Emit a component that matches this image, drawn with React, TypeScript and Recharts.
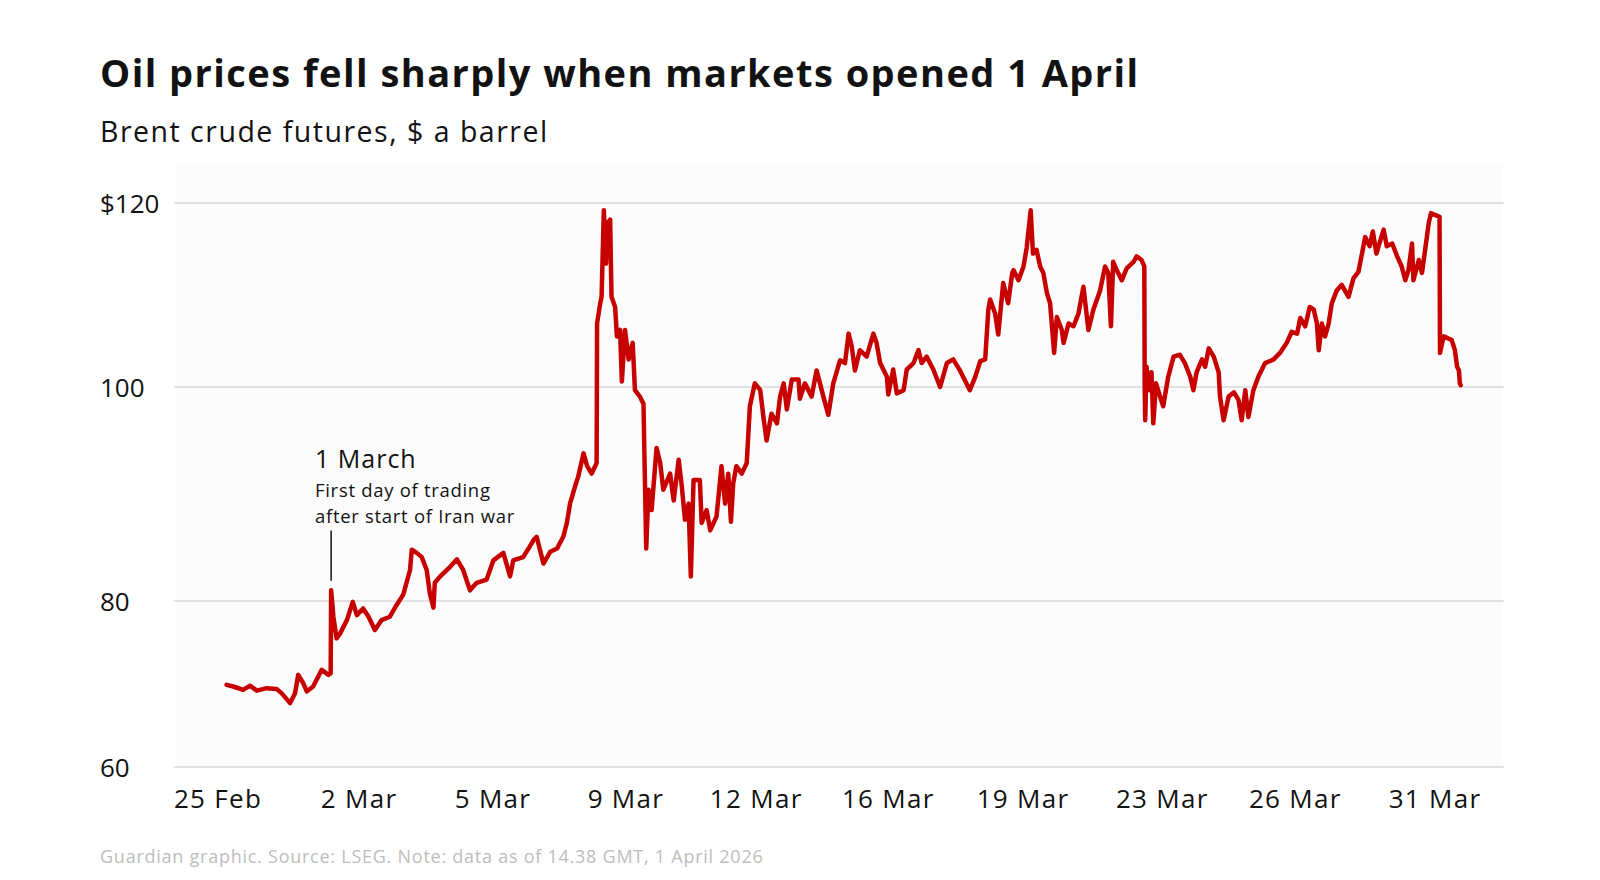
import React from 'react';
import { LineChart, Line, XAxis, YAxis, CartesianGrid, ReferenceLine } from 'recharts';

// Trading days since the 25 Feb session (weekends removed)
const DAYS = [
  0.19, 0.34, 0.56, 0.71, 0.86, 1.08, 1.3, 1.41, 1.6, 1.71, 1.78, 1.89, 1.97, 2.11, 2.3, 2.45, 2.5,
  2.51, 2.56, 2.63, 2.71, 2.86, 2.99, 3.08, 3.22, 3.34, 3.48, 3.63, 3.81, 3.96, 4.11, 4.26, 4.3,
  4.41, 4.52, 4.63, 4.7, 4.78, 4.81, 4.93, 5.15, 5.3, 5.44, 5.59, 5.74, 5.96, 6.11, 6.33, 6.48,
  6.55, 6.77, 6.89, 7.0, 7.07, 7.22, 7.37, 7.52, 7.66, 7.74, 7.81, 7.92, 7.99, 8.11, 8.19, 8.29,
  8.4, 8.41, 8.48, 8.51, 8.56, 8.61, 8.64, 8.7, 8.73, 8.81, 8.85, 8.92, 8.96, 9.03, 9.11, 9.2,
  9.25, 9.36, 9.44, 9.45, 9.5, 9.55, 9.62, 9.73, 9.81, 9.88, 10.03, 10.11, 10.22, 10.29, 10.36,
  10.44, 10.49, 10.55, 10.69, 10.73, 10.84, 10.92, 11.06, 11.17, 11.25, 11.32, 11.38, 11.43, 11.5,
  11.62, 11.73, 11.8, 11.91, 12.03, 12.1, 12.17, 12.28, 12.4, 12.47, 12.55, 12.62, 12.73, 12.88,
  12.91, 13.02, 13.17, 13.28, 13.43, 13.54, 13.65, 13.8, 13.91, 13.99, 14.06, 14.13, 14.24, 14.39,
  14.54, 14.61, 14.69, 14.84, 14.87, 14.98, 15.06, 15.21, 15.28, 15.43, 15.54, 15.61, 15.72, 15.87,
  16.02, 16.17, 16.31, 16.46, 16.68, 16.8, 16.91, 17.02, 17.09, 17.13, 17.24, 17.31, 17.42, 17.53,
  17.62, 17.65, 17.76, 17.87, 17.94, 18.03, 18.08, 18.16, 18.24, 18.31, 18.39, 18.46, 18.55, 18.61,
  18.72, 18.76, 18.87, 18.98, 19.09, 19.2, 19.31, 19.42, 19.57, 19.68, 19.75, 19.81, 19.86, 19.94,
  20.05, 20.16, 20.31, 20.38, 20.49, 20.55, 20.56, 20.57, 20.6, 20.66, 20.71, 20.75, 20.81, 20.9,
  20.97, 21.08, 21.2, 21.34, 21.45, 21.57, 21.64, 21.71, 21.83, 21.9, 21.98, 22.09, 22.2, 22.23,
  22.31, 22.42, 22.54, 22.64, 22.71, 22.79, 22.86, 22.97, 23.08, 23.23, 23.42, 23.56, 23.71, 23.82,
  23.94, 24.01, 24.12, 24.22, 24.31, 24.38, 24.42, 24.49, 24.56, 24.64, 24.71, 24.82, 24.93, 25.08,
  25.19, 25.3, 25.38, 25.45, 25.55, 25.62, 25.7, 25.79, 25.86, 25.93, 26.05, 26.16, 26.26, 26.34,
  26.41, 26.49, 26.52, 26.64, 26.71, 26.78, 26.86, 26.91, 27.0, 27.1, 27.11, 27.19, 27.37, 27.44,
  27.49, 27.53, 27.55, 27.57,
];

// Brent crude futures, $ a barrel
const PRICES = [
  69.9, 69.7, 69.3, 69.8, 69.2, 69.5, 69.4, 68.9, 67.7, 68.9, 71.1, 70.1, 69.1, 69.7, 71.7, 71.1, 71.3,
  81.0, 78.1, 75.5, 76.1, 77.7, 79.9, 78.3, 79.1, 78.1, 76.5, 77.7, 78.1, 79.5, 80.6, 82.9, 84.8,
  84.5, 84.1, 82.9, 80.7, 79.2, 81.7, 82.3, 83.2, 83.9, 82.9, 81.0, 81.7, 82.0, 83.8, 84.5, 82.3,
  83.8, 84.1, 84.9, 85.7, 86.0, 83.5, 84.6, 84.9, 86.0, 87.3, 89.1, 90.7, 91.6, 93.8, 92.6, 91.9,
  92.9, 106.9, 109.1, 109.8, 119.2, 113.4, 117.8, 118.2, 109.8, 108.7, 105.5, 106.2, 100.6, 106.2, 103.0, 104.8,
  99.7, 99.1, 98.4, 96.0, 84.9, 90.4, 88.5, 94.3, 92.9, 90.4, 91.9, 89.4, 93.2, 90.7, 87.6,
  89.1, 82.3, 91.3, 91.3, 87.3, 88.5, 86.6, 87.9, 92.6, 89.1, 91.9, 87.4, 91.0, 92.6,
  91.9, 92.9, 98.2, 100.4, 99.7, 97.2, 95.0, 97.5, 96.6, 99.1, 100.4, 97.9, 100.8, 100.8,
  98.9, 100.4, 99.1, 101.8, 99.1, 97.4, 100.4, 102.9, 102.6, 105.8, 104.4, 101.8, 104.0, 103.3,
  105.8, 104.8, 102.6, 101.1, 99.3, 101.9, 99.4, 99.7, 101.9, 102.6, 104.0, 102.6, 103.3, 101.9,
  100.0, 102.6, 103.0, 101.8, 99.7, 101.1, 102.8, 103.0, 108.4, 109.5, 108.0, 105.7, 111.3, 109.1,
  112.4, 112.7, 111.6, 113.1, 115.1, 119.2, 114.5, 114.9, 113.1, 112.4, 110.2, 109.1, 103.7, 107.6,
  106.2, 104.8, 106.9, 106.6, 108.0, 110.9, 106.2, 108.4, 110.5, 113.1, 112.4, 106.6, 113.6, 112.7,
  111.6, 112.9, 113.6, 114.2, 113.8, 113.1, 99.7, 96.9, 102.2, 99.7, 101.6, 96.6, 100.4, 99.1,
  98.2, 101.1, 103.3, 103.5, 102.6, 101.1, 99.7, 101.6, 103.0, 102.2, 104.2, 103.3, 101.6, 99.1,
  96.9, 99.1, 99.5, 98.8, 96.9, 99.7, 97.2, 99.7, 101.1, 102.6, 103.0, 103.7, 104.8, 106.0,
  105.8, 107.5, 106.6, 108.7, 108.4, 106.9, 104.0, 106.9, 105.5, 106.9, 109.1, 110.5, 111.1, 109.8,
  111.8, 112.5, 114.5, 116.3, 115.3, 116.9, 114.5, 116.0, 117.1, 115.3, 115.6, 114.2, 113.1, 111.6,
  112.7, 115.6, 111.6, 113.8, 112.4, 114.9, 117.8, 118.9, 118.7, 118.5, 103.7, 105.5, 105.1, 104.0,
  102.2, 101.8, 100.4, 100.2,
];

const TICK_DAYS = [0, 3.13, 6.1, 9.05, 11.94, 14.87, 17.86, 20.95, 23.9, 27.0];
const TICK_LABELS = ['25 Feb', '2 Mar', '5 Mar', '9 Mar', '12 Mar', '16 Mar', '19 Mar', '23 Mar', '26 Mar', '31 Mar'];
const PRICE_TICKS = [60, 80, 100, 120];
const PRICE_TICK_LABELS = ['60', '80', '100', '$120'];

// Annotation leader for 1 March (day, price)
const ANNOT_DAY = 2.51;
const ANNOT_PRICES = [81.9, 86.6];

// Uneven spacing of the value axis as drawn in the original
const Y_FRACTIONS = [0, 0.2943, 0.6738, 1];

const data = DAYS.map((d, i) => ({ day: d, price: PRICES[i] }));

function makePriceScale(): any {
  let dom: number[] = [PRICE_TICKS[0], PRICE_TICKS[PRICE_TICKS.length - 1]];
  let rng: number[] = [0, 1];
  const frac = (v: number) => {
    let i = 0;
    while (i < PRICE_TICKS.length - 2 && v > PRICE_TICKS[i + 1]) i++;
    const a = PRICE_TICKS[i];
    const b = PRICE_TICKS[i + 1];
    return Y_FRACTIONS[i] + ((v - a) / (b - a)) * (Y_FRACTIONS[i + 1] - Y_FRACTIONS[i]);
  };
  const s: any = (v: number) => rng[0] + frac(v) * (rng[1] - rng[0]);
  s.domain = (d?: number[]) => {
    if (d === undefined) return dom.slice();
    dom = d.slice();
    return s;
  };
  s.range = (r?: number[]) => {
    if (r === undefined) return rng.slice();
    rng = r.slice();
    return s;
  };
  s.copy = () => {
    const c = makePriceScale();
    c.domain(dom);
    c.range(rng);
    return c;
  };
  s.ticks = () => PRICE_TICKS.slice();
  s.tickFormat = () => (v: number) => String(v);
  s.nice = () => s;
  s.clamp = () => s;
  s.invert = (px: number) => {
    const f = (px - rng[0]) / (rng[1] - rng[0]);
    let i = 0;
    while (i < Y_FRACTIONS.length - 2 && f > Y_FRACTIONS[i + 1]) i++;
    const t = (f - Y_FRACTIONS[i]) / (Y_FRACTIONS[i + 1] - Y_FRACTIONS[i]);
    return PRICE_TICKS[i] + t * (PRICE_TICKS[i + 1] - PRICE_TICKS[i]);
  };
  return s;
}

const priceScale = makePriceScale();

const FONT = '"Open Sans", "Noto Sans", sans-serif';
const INK = '#121212';

const PriceTick = (props: any) => {
  const { y, payload } = props;
  const idx = PRICE_TICKS.indexOf(payload.value);
  return (
    <text x={100} y={y + 10} textAnchor="start" fontSize={26} fontFamily={FONT} fill={INK}>
      {idx >= 0 ? PRICE_TICK_LABELS[idx] : payload.value}
    </text>
  );
};

export default function App() {
  return (
    <div
      style={{
        position: 'absolute',
        left: 0,
        top: 0,
        width: 1600,
        height: 880,
        background: '#ffffff',
        overflow: 'hidden',
      }}
    >
      <div
        style={{
          position: 'absolute',
          left: 177,
          top: 165,
          width: 1325,
          height: 602,
          background: '#fcfcfc',
        }}
      />
      <div style={{ position: 'absolute', left: 0, top: 0 }}>
        <LineChart width={1600} height={880} data={data} margin={{ top: 203, right: 96, bottom: 53, left: 100 }}>
          <CartesianGrid vertical={false} stroke="#d9d9d9" strokeWidth={1.5} />
          <XAxis
            dataKey="day"
            type="number"
            domain={[-0.976, 28.53]}
            allowDataOverflow
            ticks={TICK_DAYS}
            interval={0}
            tickFormatter={(v: number) => {
              const i = TICK_DAYS.indexOf(v);
              return i >= 0 ? TICK_LABELS[i] : '';
            }}
            axisLine={false}
            tickLine={false}
            tickSize={0}
            tickMargin={23}
            height={60}
            tick={{ fontSize: 26, fontFamily: FONT, fill: INK, letterSpacing: 1.3 }}
          />
          <YAxis
            type="number"
            domain={[60, 120]}
            allowDataOverflow
            scale={priceScale}
            ticks={PRICE_TICKS}
            interval={0}
            width={74}
            axisLine={false}
            tickLine={false}
            tick={<PriceTick />}
          />
          <ReferenceLine
            segment={[
              { x: ANNOT_DAY, y: ANNOT_PRICES[0] },
              { x: ANNOT_DAY, y: ANNOT_PRICES[1] },
            ]}
            stroke={INK}
            strokeWidth={1.5}
            ifOverflow="visible"
          />
          <Line
            type="linear"
            dataKey="price"
            stroke="#c70000"
            strokeWidth={4.5}
            strokeLinejoin="round"
            strokeLinecap="round"
            dot={false}
            activeDot={false}
            isAnimationActive={false}
          />
        </LineChart>
      </div>
      <svg
        width={1600}
        height={880}
        style={{ position: 'absolute', left: 0, top: 0, pointerEvents: 'none' }}
      >
        <text x={100} y={87} fontSize={38} fontWeight={700} letterSpacing={1.45} fontFamily={FONT} fill={INK}>
          Oil prices fell sharply when markets opened 1 April
        </text>
        <text x={100} y={141.7} fontSize={28.5} letterSpacing={1.5} fontFamily={FONT} fill={INK}>
          Brent crude futures, $ a barrel
        </text>
        <text x={315} y={467.7} fontSize={25} letterSpacing={1} fontFamily={FONT} fill={INK}>
          1 March
        </text>
        <text x={315} y={496.7} fontSize={18.5} letterSpacing={0.7} fontFamily={FONT} fill={INK}>
          First day of trading
        </text>
        <text x={315} y={523.3} fontSize={18.5} letterSpacing={0.7} fontFamily={FONT} fill={INK}>
          after start of Iran war
        </text>
        <text x={100} y={863} fontSize={18} letterSpacing={0.75} fontFamily={FONT} fill="#bdbdbd">
          Guardian graphic. Source: LSEG. Note: data as of 14.38 GMT, 1 April 2026
        </text>
      </svg>
    </div>
  );
}
